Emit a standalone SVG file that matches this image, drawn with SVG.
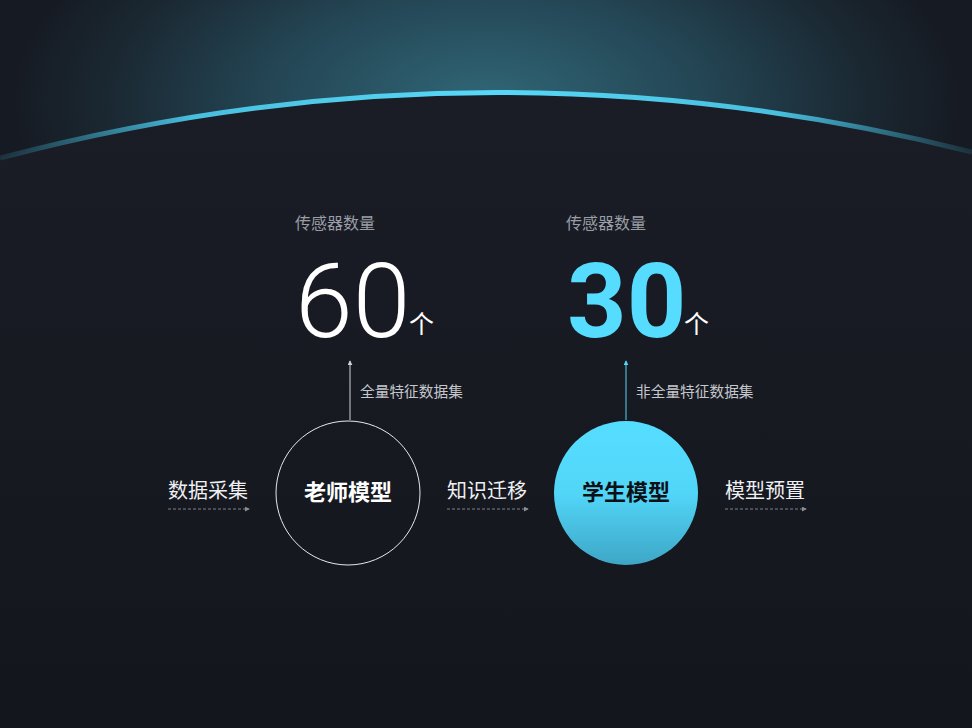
<svg xmlns="http://www.w3.org/2000/svg" width="972" height="728" viewBox="0 0 972 728">
<defs>
<linearGradient id="bg" x1="0" y1="0" x2="0" y2="728" gradientUnits="userSpaceOnUse">
<stop offset="0" stop-color="#1b1e27"/>
<stop offset="1" stop-color="#14161d"/>
</linearGradient>
<radialGradient id="glow" cx="486" cy="100" r="480" gradientUnits="userSpaceOnUse" gradientTransform="translate(486 100) scale(1 0.5) translate(-486 -100)">
<stop offset="0" stop-color="#306676"/>
<stop offset="0.45" stop-color="#244655"/>
<stop offset="0.8" stop-color="#1a2731"/>
<stop offset="1" stop-color="#161a22"/>
</radialGradient>
<linearGradient id="arc" x1="0" y1="0" x2="972" y2="0" gradientUnits="userSpaceOnUse">
<stop offset="0" stop-color="#3aa9c8" stop-opacity="0.15"/>
<stop offset="0.2" stop-color="#49bfdf"/>
<stop offset="0.5" stop-color="#58d8f7"/>
<stop offset="0.8" stop-color="#49bfdf"/>
<stop offset="1" stop-color="#3aa9c8" stop-opacity="0.15"/>
</linearGradient>
<linearGradient id="ball" x1="0" y1="0" x2="0" y2="1">
<stop offset="0" stop-color="#55ddff"/>
<stop offset="0.5" stop-color="#52d6f8"/>
<stop offset="1" stop-color="#3ea6c6"/>
</linearGradient>
<marker id="ah" viewBox="0 0 6 6" refX="5" refY="3" markerWidth="5" markerHeight="5" orient="auto" markerUnits="userSpaceOnUse">
<path d="M0,0 L6,3 L0,6 z" fill="#cfd3da"/>
</marker>
<marker id="ahd" viewBox="0 0 6 6" refX="5" refY="3" markerWidth="5" markerHeight="5" orient="auto" markerUnits="userSpaceOnUse">
<path d="M0,0 L6,3 L0,6 z" fill="#8a8e96"/>
</marker>
<marker id="ahc" viewBox="0 0 6 6" refX="5" refY="3" markerWidth="5" markerHeight="5" orient="auto" markerUnits="userSpaceOnUse">
<path d="M0,0 L6,3 L0,6 z" fill="#55d5f5"/>
</marker>
<style>
.cap{font-family:"Noto Sans CJK SC","Noto Sans",sans-serif;font-size:16px;fill:#9a9ea6}
.lab{font-family:"Noto Sans CJK SC","Noto Sans",sans-serif;font-size:14.7px;fill:#c4c7cc}
.side{font-family:"Noto Sans CJK SC","Noto Sans",sans-serif;font-size:20px;fill:#eef0f3}
.node{font-family:"Noto Sans CJK SC","Noto Sans",sans-serif;font-size:22px;font-weight:bold;text-anchor:middle}
.unit{font-family:"Noto Sans CJK SC","Noto Sans",sans-serif;font-size:25px;fill:#ffffff;font-weight:normal}
.num{font-family:Roboto,"Open Sans",sans-serif;font-size:104px}
.dash{stroke:#7d818a;stroke-width:1;stroke-dasharray:3 2;fill:none}
</style>
</defs>
<rect width="972" height="728" fill="url(#bg)"/>
<path d="M0,0 H972 V152 Q486,30 0,158 Z" fill="url(#glow)"/>
<path d="M0,158 Q486,30 972,152" fill="none" stroke="url(#arc)" stroke-width="5"/>

<g id="stat-left">
<text class="cap" x="295" y="229">传感器数量</text>
<text class="num" x="295" y="337" font-weight="300" fill="#ffffff">60<tspan class="unit" x="409" y="333">个</tspan></text>
</g>
<g id="stat-right">
<text class="cap" x="566" y="229">传感器数量</text>
<text class="num" x="567" y="337" font-weight="bold" fill="#55dcff">30<tspan class="unit" x="684" y="333">个</tspan></text>
</g>

<g id="connectors">
<line x1="350" y1="420" x2="350" y2="361" stroke="#cfd3da" stroke-width="1" marker-end="url(#ah)"/>
<line x1="626" y1="420" x2="626" y2="361" stroke="#55d5f5" stroke-width="1" marker-end="url(#ahc)"/>
<line class="dash" x1="168" y1="509" x2="249" y2="509" marker-end="url(#ahd)"/>
<line class="dash" x1="447" y1="509" x2="528" y2="509" marker-end="url(#ahd)"/>
<line class="dash" x1="725" y1="509" x2="806" y2="509" marker-end="url(#ahd)"/>
<text class="lab" x="360" y="397">全量特征数据集</text>
<text class="lab" x="636" y="397">非全量特征数据集</text>
</g>

<g id="step-collect"><text class="side" x="168" y="498">数据采集</text></g>
<g id="teacher">
<circle cx="348" cy="493" r="72" fill="none" stroke="#e6e8ec" stroke-width="1"/>
<text class="node" x="348" y="500" fill="#ffffff">老师模型</text>
</g>
<g id="step-transfer"><text class="side" x="447" y="498">知识迁移</text></g>
<g id="student">
<circle cx="626" cy="493" r="72" fill="url(#ball)"/>
<text class="node" x="626" y="500" fill="#0d1015">学生模型</text>
</g>
<g id="step-deploy"><text class="side" x="725" y="498">模型预置</text></g>
</svg>
